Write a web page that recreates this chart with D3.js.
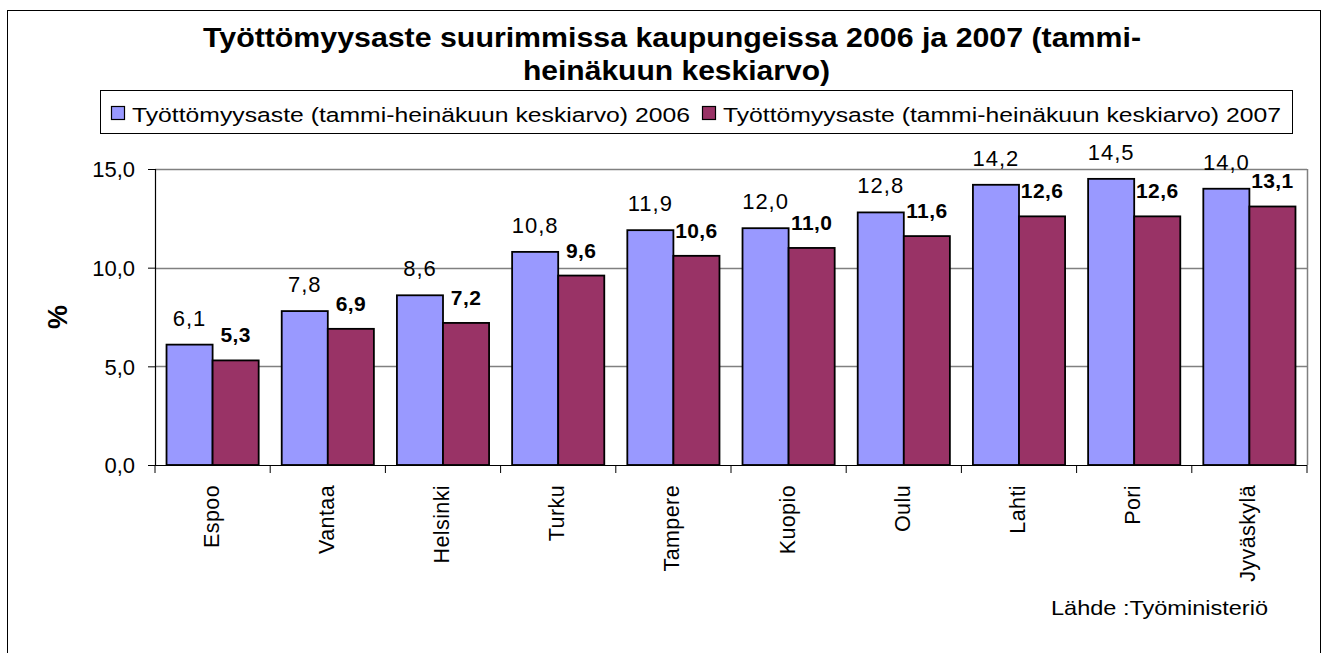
<!DOCTYPE html>
<html>
<head>
<meta charset="utf-8">
<script src="https://cdn.jsdelivr.net/npm/d3@7"></script>
<style>
  body { margin: 0; background: #fff; }
  text { font-family: "Liberation Sans", Arial, sans-serif; fill: #000; }
</style>
</head>
<body>
<div id="chart"></div>
<script>
(function() {

  var width = 1329, height = 653;

  // data
  var cities = ["Espoo", "Vantaa", "Helsinki", "Turku", "Tampere", "Kuopio", "Oulu", "Lahti", "Pori", "Jyväskylä"];
  var rate2006 = [6.1, 7.8, 8.6, 10.8, 11.9, 12.0, 12.8, 14.2, 14.5, 14.0];
  var rate2007 = [5.3, 6.9, 7.2, 9.6, 10.6, 11.0, 11.6, 12.6, 12.6, 13.1];
  var seriesNames = ["Työttömyysaste (tammi-heinäkuun keskiarvo) 2006", "Työttömyysaste (tammi-heinäkuun keskiarvo) 2007"];
  var yTicks = [0, 5, 10, 15];
  var colors = ["#9999ff", "#993366"];

  var fmt = function(v) { return d3.format(".1f")(v).replace(".", ","); };

  var svg = d3.select("#chart")
    .append("svg")
    .attr("width", width)
    .attr("height", height);

  // outer frame
  svg.append("rect")
    .attr("x", 7.5).attr("y", 10.5)
    .attr("width", 1313).attr("height", 660)
    .attr("fill", "#fff").attr("stroke", "#000").attr("stroke-width", 1);

  // title (the original font is a bit wider than Liberation, so stretch to fit)
  var title = svg.append("g")
    .attr("font-size", 28)
    .attr("font-weight", "bold");
  title.append("text")
    .attr("x", 203).attr("y", 47)
    .attr("textLength", 938).attr("lengthAdjust", "spacingAndGlyphs")
    .text("Työttömyysaste suurimmissa kaupungeissa 2006 ja 2007 (tammi-");
  title.append("text")
    .attr("x", 523).attr("y", 80)
    .attr("textLength", 307).attr("lengthAdjust", "spacingAndGlyphs")
    .text("heinäkuun keskiarvo)");

  // legend
  var legend = svg.append("g");
  legend.append("rect")
    .attr("x", 100.5).attr("y", 90.5)
    .attr("width", 1192).attr("height", 43)
    .attr("fill", "#fff").attr("stroke", "#000");
  var legX = [111, 702];
  seriesNames.forEach(function(name, i) {
    legend.append("rect")
      .attr("x", legX[i] + 0.5).attr("y", 106.5)
      .attr("width", 13).attr("height", 13)
      .attr("fill", colors[i]).attr("stroke", "#000").attr("stroke-width", 1.2);
    legend.append("text")
      .attr("x", legX[i] + 21).attr("y", 122)
      .attr("font-size", 20.5)
      .attr("textLength", 558).attr("lengthAdjust", "spacingAndGlyphs")
      .text(name);
  });

  // plot area
  var left = 155, right = 1307, top = 169, bottom = 465;

  var x = d3.scaleBand().domain(cities).range([left, right]).paddingInner(0).paddingOuter(0);
  var y = d3.scaleLinear().domain([0, 15]).range([bottom, top]);
  var inner = d3.scaleBand().domain([0, 1]).range([0, x.bandwidth()]).paddingInner(0).paddingOuter(0.25);

  // gridlines
  svg.append("g")
    .selectAll("line")
    .data(yTicks.filter(function(d) { return d > 0; }))
    .enter().append("line")
    .attr("x1", left).attr("x2", right)
    .attr("y1", function(d) { return Math.round(y(d)) + 0.5; })
    .attr("y2", function(d) { return Math.round(y(d)) + 0.5; })
    .attr("stroke", "#808080").attr("stroke-width", 1.5);

  // right border of plot area
  svg.append("line")
    .attr("x1", right + 0.5).attr("x2", right + 0.5)
    .attr("y1", top).attr("y2", bottom)
    .attr("stroke", "#808080").attr("stroke-width", 1.5);

  // bars
  var series = [rate2006, rate2007];
  series.forEach(function(vals, s) {
    svg.append("g")
      .selectAll("rect")
      .data(vals)
      .enter().append("rect")
      .attr("x", function(d, i) { return x(cities[i]) + inner(s); })
      .attr("y", function(d) { return y(d); })
      .attr("width", inner.bandwidth())
      .attr("height", function(d) { return bottom - y(d); })
      .attr("fill", colors[s])
      .attr("stroke", "#000").attr("stroke-width", 1.8);
  });

  // value labels: 2006 regular, 2007 bold
  series.forEach(function(vals, s) {
    svg.append("g")
      .selectAll("text")
      .data(vals)
      .enter().append("text")
      .attr("x", function(d, i) { return x(cities[i]) + inner(s) + inner.bandwidth() / 2; })
      .attr("y", function(d) { return y(d) - (s === 0 ? 19 : 18); })
      .attr("text-anchor", "middle")
      .attr("font-size", s === 0 ? 22 : 21)
      .attr("letter-spacing", s === 0 ? 1 : 0.4)
      .attr("font-weight", s === 1 ? "bold" : "normal")
      .text(fmt);
  });

  // y axis
  var yAxis = svg.append("g")
    .attr("transform", "translate(" + left + ",0)")
    .call(d3.axisLeft(y).tickValues(yTicks).tickSize(7).tickFormat(fmt));
  yAxis.select(".domain").attr("stroke", "#000").attr("stroke-width", 1.2);
  yAxis.selectAll(".tick line").attr("stroke", "#000");
  yAxis.selectAll(".tick text")
    .attr("font-family", "Liberation Sans, Arial, sans-serif")
    .attr("font-size", 22)
    .attr("x", -20).attr("dy", "0.36em");

  // x axis
  var xAxis = svg.append("g")
    .attr("transform", "translate(0," + bottom + ")");
  xAxis.append("line")
    .attr("x1", left).attr("x2", right)
    .attr("y1", 0.5).attr("y2", 0.5)
    .attr("stroke", "#000").attr("stroke-width", 1.2);
  xAxis.selectAll(".xtick")
    .data(d3.range(cities.length + 1))
    .enter().append("line")
    .attr("class", "xtick")
    .attr("x1", function(d) { return left + d * x.step(); })
    .attr("x2", function(d) { return left + d * x.step(); })
    .attr("y1", 0).attr("y2", 8)
    .attr("stroke", "#000");
  xAxis.selectAll(".xlabel")
    .data(cities)
    .enter().append("text")
    .attr("class", "xlabel")
    .attr("transform", function(d) {
      return "translate(" + (x(d) + x.bandwidth() / 2 + 6) + ",20) rotate(-90)";
    })
    .attr("text-anchor", "end")
    .attr("font-size", 21.5)
    .attr("letter-spacing", 0.4)
    .text(function(d) { return d; });

  // y axis title
  svg.append("text")
    .attr("transform", "translate(67,317) rotate(-90)")
    .attr("text-anchor", "middle")
    .attr("font-size", 27)
    .attr("font-weight", "bold")
    .text("%");

  // source
  svg.append("text")
    .attr("x", 1051).attr("y", 615)
    .attr("font-size", 21)
    .attr("textLength", 217).attr("lengthAdjust", "spacingAndGlyphs")
    .text("Lähde :Työministeriö");

})();
</script>
</body>
</html>
